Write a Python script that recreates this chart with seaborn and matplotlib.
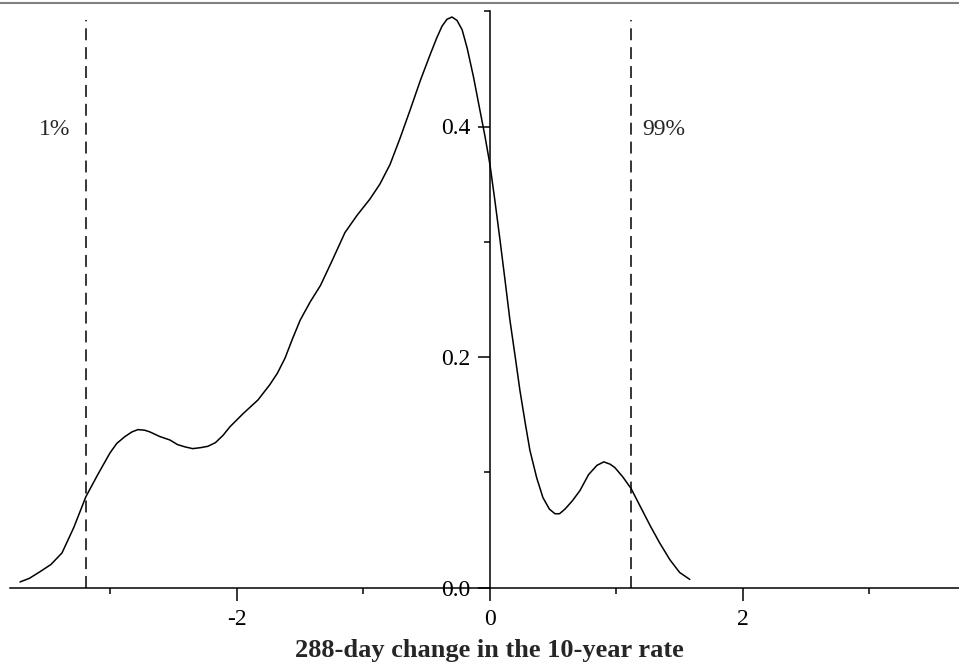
import matplotlib
matplotlib.use("Agg")
import matplotlib.pyplot as plt
import matplotlib.lines as mlines
from matplotlib.ticker import FixedLocator
import seaborn as sns
import pandas as pd

# Density curve
x_vals = [-3.715, -3.64, -3.557, -3.47, -3.383, -3.29, -3.194, -3.10, -3.004, -2.95,
          -2.885, -2.83, -2.783, -2.73, -2.688, -2.61, -2.53, -2.47, -2.41, -2.35,
          -2.29, -2.23, -2.17, -2.11, -2.055, -1.95, -1.834, -1.74, -1.68, -1.62,
          -1.56, -1.50, -1.42, -1.34, -1.25, -1.146, -1.05, -0.949, -0.87, -0.79,
          -0.71, -0.632, -0.55, -0.474, -0.42, -0.379, -0.34, -0.30, -0.26, -0.22,
          -0.18, -0.13, -0.079, -0.04, 0.0, 0.04, 0.079, 0.12, 0.158, 0.20,
          0.237, 0.28, 0.316, 0.37, 0.419, 0.47, 0.514, 0.55, 0.593, 0.65,
          0.711, 0.78, 0.846, 0.90, 0.95, 0.988, 1.05, 1.115, 1.19, 1.265,
          1.34, 1.423, 1.50, 1.58]
y_vals = [0.0048, 0.008, 0.0137, 0.020, 0.030, 0.052, 0.0788, 0.098, 0.1167, 0.125,
          0.131, 0.135, 0.137, 0.1365, 0.135, 0.131, 0.128, 0.124, 0.122, 0.1205,
          0.1213, 0.1225, 0.1257, 0.132, 0.1395, 0.151, 0.1627, 0.176, 0.186, 0.199,
          0.216, 0.232, 0.248, 0.262, 0.283, 0.308, 0.323, 0.337, 0.350, 0.367,
          0.390, 0.414, 0.440, 0.462, 0.477, 0.487, 0.493, 0.495, 0.492, 0.484,
          0.468, 0.443, 0.414, 0.392, 0.367, 0.335, 0.302, 0.266, 0.232, 0.200,
          0.171, 0.142, 0.119, 0.095, 0.078, 0.068, 0.064, 0.064, 0.068, 0.075,
          0.084, 0.098, 0.106, 0.109, 0.107, 0.104, 0.096, 0.086, 0.070, 0.054,
          0.039, 0.024, 0.013, 0.007]

quantile_x = [-3.194, 1.115]
quantile_labels = ["1%", "99%"]
x_major = [-2, 0, 2]
x_major_labels = ["-2", "0", "2"]
x_minor = [-3, -1, 1, 3]
y_major = [0.0, 0.2, 0.4]
y_major_labels = ["0.0", "0.2", "0.4"]
y_minor = [0.1, 0.3, 0.5]
xlabel = "288-day change in the 10-year rate"

sns.set_theme(style="white")
plt.rcParams["font.family"] = ["Liberation Serif", "DejaVu Serif"]
plt.rcParams["lines.scale_dashes"] = False

W, H = 959, 666
fig = plt.figure(figsize=(W / 100, H / 100), dpi=100)
ax_left = 10 / W
ax_bottom = (H - 587.5) / H
ax_top = (H - 11.25) / H
ax = fig.add_axes([ax_left, ax_bottom, 1.0 - ax_left, ax_top - ax_bottom])

df = pd.DataFrame({"x": x_vals, "y": y_vals})
sns.lineplot(data=df, x="x", y="y", color="black", linewidth=1.1, ax=ax, sort=False)

for qx in quantile_x:
    ax.plot([qx, qx], [0, 0.492], color="black", linewidth=1.1, linestyle=(0, (8.6, 5.0)))
ax.text(quantile_x[0] - 0.12, 0.397, quantile_labels[0], ha="right", va="center", fontsize=17)
ax.text(quantile_x[1] + 0.09, 0.397, quantile_labels[1], ha="left", va="center", fontsize=17)

ax.set_xlim(-3.794, 3.708)
ax.set_ylim(0, 0.5)
ax.spines["left"].set_position(("data", 0))
ax.spines["top"].set_visible(False)
ax.spines["right"].set_visible(False)
for s in ["left", "bottom"]:
    ax.spines[s].set_color("black")
    ax.spines[s].set_linewidth(1.1)

ax.xaxis.set_major_locator(FixedLocator(x_major))
ax.set_xticklabels(x_major_labels)
ax.xaxis.set_minor_locator(FixedLocator(x_minor))
ax.yaxis.set_major_locator(FixedLocator(y_major))
ax.set_yticklabels(y_major_labels)
ax.yaxis.set_minor_locator(FixedLocator(y_minor))
ax.tick_params(axis="both", which="major", direction="out", length=9, width=1.1,
               color="black", labelsize=17, labelcolor="black", pad=5)
ax.tick_params(axis="x", which="major", pad=6.5)
ax.tick_params(axis="both", which="minor", direction="out", length=4, width=1.1,
               color="black")
ax.tick_params(axis="x", which="both", bottom=True)
ax.tick_params(axis="y", which="both", left=True)
ax.set_xlabel("")
ax.set_ylabel("")
ax.grid(False)

fig.text(489 / W, 9 / H, xlabel, ha="center", va="baseline", fontsize=19, fontweight="bold")
fig.add_artist(mlines.Line2D([0, 1], [(H - 2.5) / H, (H - 2.5) / H], color="#808080",
                             linewidth=1.5, transform=fig.transFigure))

fig.savefig("out.png", dpi=100)
